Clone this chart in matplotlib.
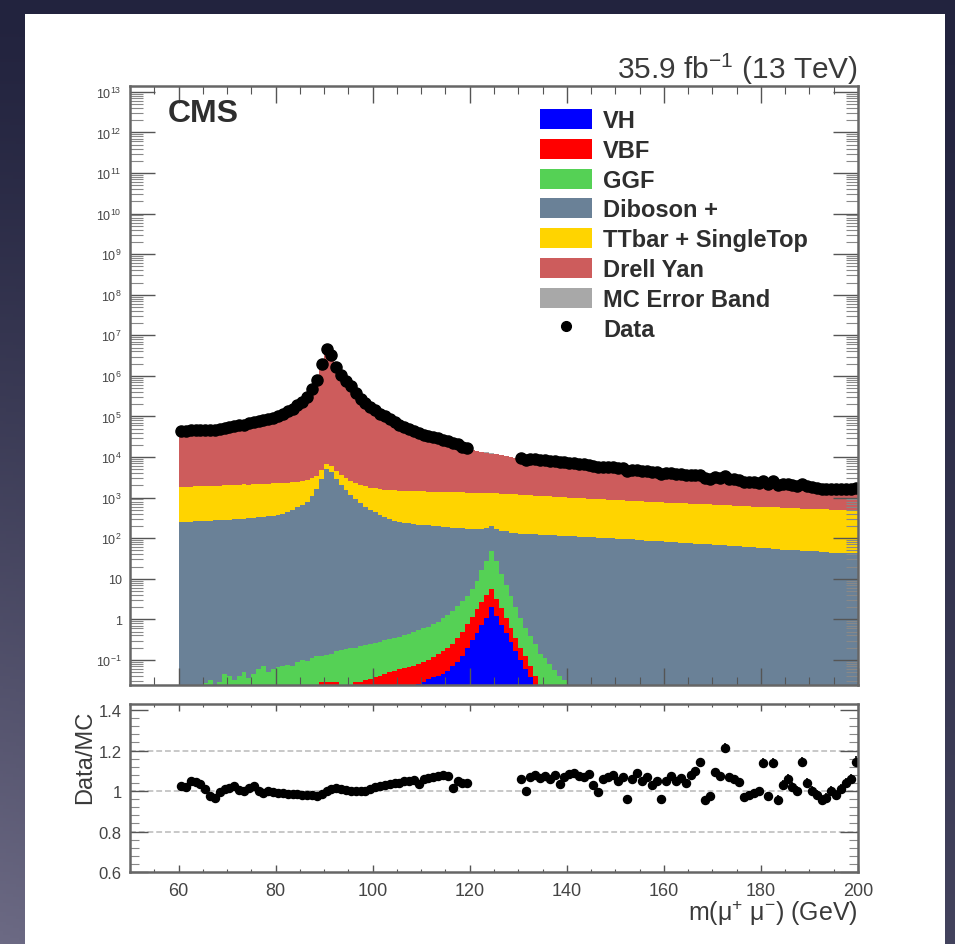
import matplotlib.pyplot as plt
import numpy as np
from matplotlib.patches import Patch, Rectangle
from matplotlib.lines import Line2D
from matplotlib.ticker import (FixedLocator, FixedFormatter, MultipleLocator,
                               LogLocator, NullFormatter, FuncFormatter)

plt.rcParams['font.family'] = ['Liberation Sans', 'DejaVu Sans']
plt.rcParams['mathtext.fontset'] = 'custom'
plt.rcParams['mathtext.rm'] = 'Liberation Sans'
plt.rcParams['mathtext.it'] = 'Liberation Sans:italic'
plt.rcParams['mathtext.bf'] = 'Liberation Sans:bold'

# 1 GeV bins from 60 to 200 GeV
edges = np.arange(60, 201)
nan = np.nan

# background processes, events per bin
dy = [39900, 40900, 41700, 42800, 43800, 44900, 46000, 47000, 48100, 50500,
      53000, 55400, 58200, 61000, 64000, 68700, 73700, 79100, 84900, 91100,
      99800, 115000, 133000, 155700, 189000, 227000, 313000, 476000, 829000, 1996000,
      4673000, 3304000, 1656000, 1047000, 756000, 548000, 378000, 273000, 212000, 168000,
      136000, 113100, 95900, 81400, 67400, 57200, 50800, 45100, 40100, 35600,
      31500, 29300, 27300, 25400, 23600, 21900, 20000, 18100, 16000, 14400,
      13400, 12750, 12170, 11580, 10990, 10400, 9930, 9270, 8800, 8150,
      7740, 7520, 7300, 7060, 6860, 6650, 6450, 6260, 6070, 5880,
      5700, 5540, 5370, 5200, 5040, 4880, 4740, 4600, 4440, 4320,
      4180, 4050, 3910, 3790, 3690, 3570, 3470, 3360, 3270, 3170,
      3080, 2990, 2900, 2820, 2720, 2650, 2570, 2490, 2420, 2350,
      2280, 2200, 2140, 2080, 2020, 1960, 1890, 1840, 1800, 1750,
      1710, 1660, 1620, 1570, 1540, 1500, 1450, 1420, 1380, 1340,
      1310, 1270, 1240, 1200, 1170, 1150, 1110, 1080, 1050, 1030]

ttbar = [1550, 1590, 1580, 1630, 1620, 1670, 1660, 1710, 1700, 1740,
         1740, 1770, 1770, 1800, 1790, 1820, 1820, 1850, 1840, 1870,
         1870, 1890, 1880, 1900, 1890, 1910, 1890, 1900, 1880, 1890,
         1850, 1800, 1700, 1600, 1500, 1420, 1360, 1320, 1290, 1270,
         1260, 1255, 1245, 1242, 1235, 1232, 1225, 1222, 1215, 1212,
         1205, 1203, 1195, 1193, 1185, 1183, 1175, 1173, 1165, 1162,
         1150, 1143, 1130, 1123, 1110, 1103, 1090, 1083, 1065, 1058,
         1040, 1030, 1010, 1000, 980, 970, 950, 940, 920, 910,
         890, 880, 860, 852, 836, 828, 812, 804, 788, 780,
         765, 759, 745, 739, 725, 720, 707, 702, 689, 684,
         672, 668, 656, 652, 640, 636, 624, 621, 610, 607,
         596, 593, 582, 579, 568, 566, 556, 554, 544, 542,
         532, 530, 520, 518, 508, 506, 497, 495, 487, 485,
         477, 475, 467, 465, 457, 455, 447, 445, 437, 435]

diboson = [250, 254, 255, 261, 262, 268, 268, 275, 276, 283,
           285, 293, 296, 305, 309, 318, 324, 330, 345, 358,
           370, 400, 440, 500, 570, 660, 800, 1100, 1600, 2800,
           5000, 4200, 2800, 2000, 1500, 1150, 940, 750, 600, 500,
           440, 380, 330, 300, 272, 255, 242, 232, 224, 216,
           210, 205, 200, 196, 191, 188, 181, 178, 171, 168,
           162, 160, 154, 152, 146, 145, 140, 139, 134, 133,
           128, 127, 125, 124, 122, 121, 118, 118, 115, 115,
           112, 111, 109, 108, 106, 105, 102, 102, 99, 99,
           96, 96, 93, 93, 90, 90, 87, 87, 84, 84,
           82, 81, 79, 78, 76, 76, 73, 73, 70, 70,
           68, 68, 66, 65, 63, 63, 61, 61, 59, 58,
           56, 56, 54, 54, 52, 52, 50, 50, 48, 48,
           47, 47, 45, 46, 44, 44, 43, 43, 42, 42]

# signal processes, 60-140 GeV (zero above)
ggf = [0, 0, 0, 0, 0, 0.026, 0.03, 0, 0.028, 0.044,
       0.04, 0.03, 0.04, 0.05, 0.035, 0.045, 0.06, 0.07, 0.05, 0.06,
       0.065, 0.07, 0.075, 0.07, 0.09, 0.1, 0.095, 0.11, 0.12, 0.092,
       0.102, 0.112, 0.132, 0.17, 0.18, 0.2, 0.173, 0.192, 0.2, 0.207,
       0.224, 0.24, 0.256, 0.272, 0.288, 0.313, 0.338, 0.374, 0.409, 0.45,
       0.51, 0.56, 0.635, 0.745, 0.89, 1.11, 1.35, 1.76, 2.31, 3.05,
       4.35, 7.2, 13.3, 24.1, 43.4, 23.8, 11.1, 5.93, 3.18, 1.65,
       0.9, 0.5, 0.312, 0.2, 0.138, 0.11, 0.08, 0.055, 0.04, 0.03]

vbf = [0, 0, 0, 0, 0, 0, 0, 0, 0, 0,
       0, 0, 0, 0, 0, 0, 0, 0, 0, 0,
       0, 0, 0, 0, 0, 0, 0, 0, 0, 0.028,
       0.028, 0.028, 0.028, 0, 0, 0, 0.027, 0.028, 0.03, 0.033,
       0.036, 0.04, 0.044, 0.048, 0.052, 0.057, 0.062, 0.066, 0.071, 0.055,
       0.062, 0.068, 0.079, 0.095, 0.115, 0.138, 0.182, 0.25, 0.364, 0.56,
       0.85, 1.33, 1.98, 2.8, 3.6, 2.0, 1.16, 0.62, 0.35, 0.184,
       0.1, 0.06, 0.031, 0.017, 0, 0, 0, 0, 0, 0]

vh = [0, 0, 0, 0, 0, 0, 0, 0, 0, 0,
      0, 0, 0, 0, 0, 0, 0, 0, 0, 0,
      0, 0, 0, 0, 0, 0, 0, 0, 0, 0,
      0, 0, 0, 0, 0, 0, 0, 0, 0, 0,
      0, 0, 0, 0, 0, 0, 0, 0, 0, 0.025,
      0.028, 0.032, 0.036, 0.04, 0.045, 0.052, 0.068, 0.09, 0.126, 0.19,
      0.3, 0.47, 0.72, 1.1, 2.0, 1.2, 0.74, 0.45, 0.27, 0.166,
      0.1, 0.06, 0.037, 0.022, 0, 0, 0, 0, 0, 0]

# data / MC per bin, 120-130 GeV blinded
ratio = [1.025, 1.02, 1.05, 1.045, 1.033, 1.01, 0.975, 0.965, 0.995, 1.008,
         1.015, 1.025, 1.005, 0.998, 1.015, 1.025, 1.0, 0.992, 1.0, 0.995,
         0.99, 0.988, 0.986, 0.985, 0.984, 0.982, 0.98, 0.978, 0.975, 0.985,
         1.0, 1.012, 1.015, 1.008, 1.003, 1.0, 1.0, 0.998, 1.002, 1.01,
         1.02, 1.025, 1.028, 1.033, 1.038, 1.042, 1.048, 1.05, 1.055, 1.035,
         1.058, 1.062, 1.07, 1.075, 1.08, 1.072, 1.015, 1.05, 1.04, 1.042,
         nan, nan, nan, nan, nan, nan, nan, nan, nan, nan,
         1.058, 1.0, 1.068, 1.078, 1.062, 1.075, 1.06, 1.08, 1.033, 1.07,
         1.085, 1.09, 1.075, 1.07, 1.085, 1.03, 0.995, 1.06, 1.07, 1.08,
         1.05, 1.068, 0.96, 1.06, 1.088, 1.05, 1.07, 1.03, 1.05, 0.962,
         1.05, 1.072, 1.048, 1.062, 1.04, 1.08, 1.1, 1.142, 0.955, 0.975,
         1.095, 1.075, 1.215, 1.07, 1.06, 1.045, 0.97, 0.978, 0.99, 1.0,
         1.14, 0.975, 1.14, 0.958, 1.03, 1.06, 1.02, 1.0, 1.143, 1.04,
         1.0, 0.98, 0.955, 0.965, 1.0, 0.98, 1.01, 1.04, 1.06, 1.145]

mc_rel_unc = 0.01

labels = ['VH', 'VBF', 'GGF', 'Diboson +', 'TTbar + SingleTop', 'Drell Yan']
colors = ['#0000ff', '#ff0000', '#55d155', '#6a8197', '#ffd400', '#cd5c5c']
ytick_vals = [10.0 ** k for k in range(-1, 14)]
ytick_text = ['$10^{-1}$', '1', '10'] + ['$10^{%d}$' % k for k in range(2, 14)]

nb = len(edges) - 1
centers = edges[:-1] + 0.5


def pad(vals):
    out = np.zeros(nb)
    out[:len(vals)] = vals
    return out


processes = [pad(vh), pad(vbf), pad(ggf), np.array(diboson, float),
             np.array(ttbar, float), np.array(dy, float)]

fig = plt.figure(figsize=(9.55, 9.45), dpi=100)

# slide background and white sheet
bg = fig.add_axes([0, 0, 1, 1], zorder=-10)
bg.axis('off')
yy, xx = np.mgrid[0:1:300j, 0:1:300j]
t = (yy ** 1.3) * (1 - 0.55 * xx)
top_c = np.array([34, 35, 62]) / 255
bot_c = np.array([108, 106, 132]) / 255
grad = top_c[None, None, :] * (1 - t[..., None]) + bot_c[None, None, :] * t[..., None]
bg.imshow(grad, extent=[0, 1, 0, 1], origin='upper', aspect='auto')
bg.add_patch(Rectangle((25 / 955, 0), 920 / 955, 1 - 15 / 945,
                       facecolor='white', edgecolor='none'))
bg.set_xlim(0, 1)
bg.set_ylim(0, 1)

frame_c = '#666666'
tick_c = '#555555'
text_c = '#2e2e2e'

# ---- main panel
ax = fig.add_axes([130 / 955, 1 - 686 / 945, 728 / 955, 599 / 945])
ax.set_yscale('log')

bottom = np.full(nb, 1e-3)
for vals, col in zip(processes, colors):
    top = bottom + vals
    ax.stairs(top, edges, baseline=bottom, fill=True, color=col, lw=0)
    bottom = top
mc_total = bottom

ax.stairs(mc_total * (1 + mc_rel_unc), edges, baseline=mc_total * (1 - mc_rel_unc),
          fill=True, color='#a8a8a8', lw=0)

ratio = np.array(ratio, dtype=float)
data = ratio * mc_total
ax.plot(centers, data, 'o', color='black', ms=8, mec='black')

ax.set_xlim(50, 200)
ax.set_ylim(0.024, 1.4e13)
ax.yaxis.set_major_locator(FixedLocator(ytick_vals))
ax.yaxis.set_major_formatter(FixedFormatter(ytick_text))
ax.yaxis.set_minor_locator(LogLocator(base=10, subs=np.arange(2, 10), numticks=100))
ax.yaxis.set_minor_formatter(NullFormatter())
ax.xaxis.set_major_locator(MultipleLocator(20))
ax.xaxis.set_minor_locator(MultipleLocator(5))
ax.tick_params(axis='y', which='major', direction='in', length=18, width=1.0,
               left=True, right=True, color=tick_c, labelsize=9, labelcolor='#444444', pad=6)
ax.tick_params(axis='y', which='minor', direction='in', length=9, width=0.8,
               left=True, right=True, color='#888888')
ax.tick_params(axis='x', which='major', direction='in', length=12, width=1.0,
               top=True, bottom=True, color=tick_c, labelbottom=False)
ax.tick_params(axis='x', which='minor', direction='in', length=6, width=0.8,
               top=True, bottom=True, color=tick_c)
for s in ax.spines.values():
    s.set_color(frame_c)
    s.set_linewidth(1.8)

handles = [Patch(facecolor=c, edgecolor='none') for c in colors]
handles.append(Patch(facecolor='#a8a8a8', edgecolor='none'))
handles.append(Line2D([], [], marker='o', ls='none', color='black', ms=7))
leg = ax.legend(handles, labels + ['MC Error Band', 'Data'],
                loc='upper left', bbox_to_anchor=(540 / 955, 1 - 110 / 945),
                bbox_transform=fig.transFigure, frameon=False, borderpad=0,
                borderaxespad=0, handlelength=2.2, handleheight=0.93,
                handletextpad=0.47, labelspacing=0.28,
                prop={'weight': 'bold', 'size': 17})
for txt in leg.get_texts():
    txt.set_color(text_c)

fig.text(168 / 955, 1 - 122 / 945, 'CMS', weight='bold', size=23,
         color=text_c, va='baseline')
fig.text(858 / 955, 1 - 79 / 945, '35.9 fb$^{-1}$ (13 TeV)', size=21.5,
         color='#3a3a3a', ha='right', va='baseline')

# ---- ratio panel
rx = fig.add_axes([130 / 955, 1 - 873 / 945, 728 / 955, 168 / 945])
for g in (0.8, 1.0, 1.2):
    rx.axhline(g, color='#c8c8c8', lw=1.4, ls=(0, (3, 1.5)), zorder=0)
rerr = np.sqrt(data) / mc_total
rx.errorbar(centers, ratio, yerr=rerr, fmt='o', color='black', ms=5.8,
            elinewidth=1.2, capsize=0)
rx.set_xlim(50, 200)
rx.set_ylim(0.6, 1.43)
rx.xaxis.set_major_locator(MultipleLocator(20))
rx.xaxis.set_minor_locator(MultipleLocator(5))
rx.yaxis.set_major_locator(MultipleLocator(0.2))
rx.yaxis.set_minor_locator(MultipleLocator(0.04))
fmt = FuncFormatter(lambda v, p: '{:g}'.format(round(v, 2)))
rx.xaxis.set_major_formatter(fmt)
rx.yaxis.set_major_formatter(fmt)
rx.tick_params(axis='y', which='major', direction='in', length=13, width=1.0,
               left=True, right=True, color=tick_c, labelsize=12,
               labelcolor='#444444', pad=6)
rx.tick_params(axis='y', which='minor', direction='in', length=6.5, width=0.8,
               left=True, right=True, color='#888888')
rx.tick_params(axis='x', which='major', direction='in', length=5, width=1.0,
               top=True, bottom=True, color=tick_c, labelsize=13,
               labelcolor='#444444', pad=7)
rx.tick_params(axis='x', which='minor', direction='in', length=2.5, width=0.8,
               top=True, bottom=True, color=tick_c)
for s in rx.spines.values():
    s.set_color(frame_c)
    s.set_linewidth(1.8)

fig.text(85 / 955, 1 - 757 / 945, 'Data/MC', rotation=90, size=17,
         color='#3a3a3a', ha='center', va='center')
fig.text(858 / 955, 1 - 921 / 945, 'm(μ$^{+}$ μ$^{-}$) (GeV)', size=18,
         color='#3a3a3a', ha='right', va='baseline')

fig.savefig('out.png', dpi=100)
